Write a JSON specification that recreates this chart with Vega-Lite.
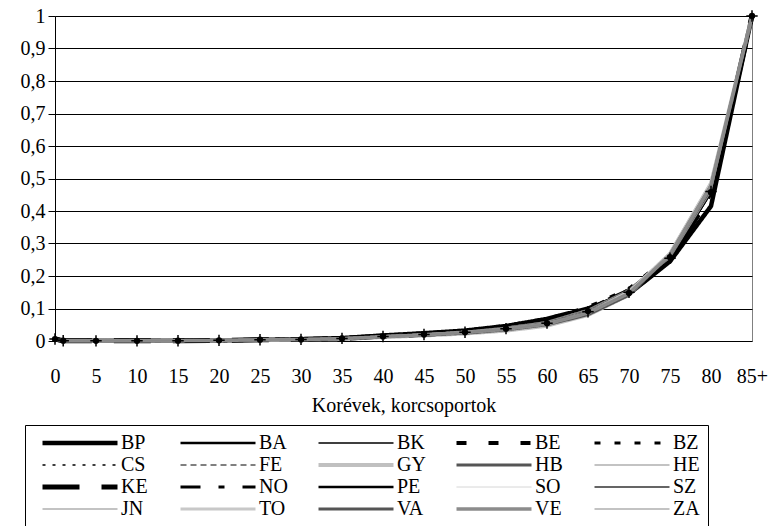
{
"$schema": "https://vega.github.io/schema/vega-lite/v6.json",
"width": 697, "height": 325,
"autosize": {"type": "none"},
"padding": {"left": 55, "top": 16, "right": 16, "bottom": 185},
"background": "white",
"config": {
  "font": "Liberation Serif, Times New Roman, serif",
  "axis": {"labelFont": "Liberation Serif, Times New Roman, serif", "titleFont": "Liberation Serif, Times New Roman, serif"},
  "view": {"stroke": "#808080", "strokeWidth": 1},
  "legend": {
    "orient": "none", "legendX": -30, "legendY": 409, "columns": 5, "direction": "horizontal",
    "symbolType": "stroke", "symbolSize": 5625, "clipHeight": 20, "labelFontSize": 20, "labelFont": "Liberation Serif, Times New Roman, serif",
    "labelColor": "#000", "labelOffset": 1, "columnPadding": 21, "rowPadding": 2,
    "strokeColor": "#000", "padding": 8, "symbolOffset": 7, "gridAlign": "all", "title": null
  }
},
"datasets": {
"q": [
{"c":"BP","a":0,"v":0.005},{"c":"BP","a":1,"v":0.0008},{"c":"BP","a":5,"v":0.0004},{"c":"BP","a":10,"v":0.0004},{"c":"BP","a":15,"v":0.0008},{"c":"BP","a":20,"v":0.0015},{"c":"BP","a":25,"v":0.0035},{"c":"BP","a":30,"v":0.0055},{"c":"BP","a":35,"v":0.009},{"c":"BP","a":40,"v":0.017},{"c":"BP","a":45,"v":0.024},{"c":"BP","a":50,"v":0.032},{"c":"BP","a":55,"v":0.046},{"c":"BP","a":60,"v":0.068},{"c":"BP","a":65,"v":0.1},{"c":"BP","a":70,"v":0.145},{"c":"BP","a":75,"v":0.245},{"c":"BP","a":80,"v":0.415},{"c":"BP","a":85,"v":1},
{"c":"BA","a":0,"v":0.006},{"c":"BA","a":1,"v":0.001},{"c":"BA","a":5,"v":0.0005},{"c":"BA","a":10,"v":0.0005},{"c":"BA","a":15,"v":0.001},{"c":"BA","a":20,"v":0.002},{"c":"BA","a":25,"v":0.004},{"c":"BA","a":30,"v":0.005},{"c":"BA","a":35,"v":0.008},{"c":"BA","a":40,"v":0.015},{"c":"BA","a":45,"v":0.022},{"c":"BA","a":50,"v":0.03},{"c":"BA","a":55,"v":0.042},{"c":"BA","a":60,"v":0.06},{"c":"BA","a":65,"v":0.097},{"c":"BA","a":70,"v":0.156},{"c":"BA","a":75,"v":0.255},{"c":"BA","a":80,"v":0.46},{"c":"BA","a":85,"v":1},
{"c":"BK","a":0,"v":0.006},{"c":"BK","a":1,"v":0.001},{"c":"BK","a":5,"v":0.0005},{"c":"BK","a":10,"v":0.0005},{"c":"BK","a":15,"v":0.001},{"c":"BK","a":20,"v":0.002},{"c":"BK","a":25,"v":0.004},{"c":"BK","a":30,"v":0.005},{"c":"BK","a":35,"v":0.008},{"c":"BK","a":40,"v":0.015},{"c":"BK","a":45,"v":0.021},{"c":"BK","a":50,"v":0.028},{"c":"BK","a":55,"v":0.04},{"c":"BK","a":60,"v":0.058},{"c":"BK","a":65,"v":0.094},{"c":"BK","a":70,"v":0.155},{"c":"BK","a":75,"v":0.26},{"c":"BK","a":80,"v":0.47},{"c":"BK","a":85,"v":1},
{"c":"BE","a":0,"v":0.007},{"c":"BE","a":1,"v":0.001},{"c":"BE","a":5,"v":0.0005},{"c":"BE","a":10,"v":0.0005},{"c":"BE","a":15,"v":0.001},{"c":"BE","a":20,"v":0.002},{"c":"BE","a":25,"v":0.004},{"c":"BE","a":30,"v":0.005},{"c":"BE","a":35,"v":0.008},{"c":"BE","a":40,"v":0.015},{"c":"BE","a":45,"v":0.022},{"c":"BE","a":50,"v":0.03},{"c":"BE","a":55,"v":0.042},{"c":"BE","a":60,"v":0.06},{"c":"BE","a":65,"v":0.097},{"c":"BE","a":70,"v":0.157},{"c":"BE","a":75,"v":0.255},{"c":"BE","a":80,"v":0.455},{"c":"BE","a":85,"v":1},
{"c":"BZ","a":0,"v":0.008},{"c":"BZ","a":1,"v":0.0015},{"c":"BZ","a":5,"v":0.0007},{"c":"BZ","a":10,"v":0.0007},{"c":"BZ","a":15,"v":0.0013},{"c":"BZ","a":20,"v":0.0025},{"c":"BZ","a":25,"v":0.0045},{"c":"BZ","a":30,"v":0.006},{"c":"BZ","a":35,"v":0.01},{"c":"BZ","a":40,"v":0.018},{"c":"BZ","a":45,"v":0.025},{"c":"BZ","a":50,"v":0.034},{"c":"BZ","a":55,"v":0.048},{"c":"BZ","a":60,"v":0.069},{"c":"BZ","a":65,"v":0.105},{"c":"BZ","a":70,"v":0.162},{"c":"BZ","a":75,"v":0.263},{"c":"BZ","a":80,"v":0.475},{"c":"BZ","a":85,"v":1},
{"c":"CS","a":0,"v":0.006},{"c":"CS","a":1,"v":0.001},{"c":"CS","a":5,"v":0.0005},{"c":"CS","a":10,"v":0.0005},{"c":"CS","a":15,"v":0.001},{"c":"CS","a":20,"v":0.002},{"c":"CS","a":25,"v":0.0038},{"c":"CS","a":30,"v":0.0048},{"c":"CS","a":35,"v":0.0075},{"c":"CS","a":40,"v":0.013},{"c":"CS","a":45,"v":0.019},{"c":"CS","a":50,"v":0.026},{"c":"CS","a":55,"v":0.036},{"c":"CS","a":60,"v":0.052},{"c":"CS","a":65,"v":0.086},{"c":"CS","a":70,"v":0.146},{"c":"CS","a":75,"v":0.255},{"c":"CS","a":80,"v":0.46},{"c":"CS","a":85,"v":1},
{"c":"FE","a":0,"v":0.006},{"c":"FE","a":1,"v":0.001},{"c":"FE","a":5,"v":0.0005},{"c":"FE","a":10,"v":0.0005},{"c":"FE","a":15,"v":0.001},{"c":"FE","a":20,"v":0.002},{"c":"FE","a":25,"v":0.004},{"c":"FE","a":30,"v":0.005},{"c":"FE","a":35,"v":0.008},{"c":"FE","a":40,"v":0.014},{"c":"FE","a":45,"v":0.02},{"c":"FE","a":50,"v":0.027},{"c":"FE","a":55,"v":0.038},{"c":"FE","a":60,"v":0.055},{"c":"FE","a":65,"v":0.09},{"c":"FE","a":70,"v":0.15},{"c":"FE","a":75,"v":0.255},{"c":"FE","a":80,"v":0.46},{"c":"FE","a":85,"v":1},
{"c":"GY","a":0,"v":0.005},{"c":"GY","a":1,"v":0.0008},{"c":"GY","a":5,"v":0.0004},{"c":"GY","a":10,"v":0.0004},{"c":"GY","a":15,"v":0.0009},{"c":"GY","a":20,"v":0.0018},{"c":"GY","a":25,"v":0.003},{"c":"GY","a":30,"v":0.004},{"c":"GY","a":35,"v":0.006},{"c":"GY","a":40,"v":0.012},{"c":"GY","a":45,"v":0.017},{"c":"GY","a":50,"v":0.023},{"c":"GY","a":55,"v":0.032},{"c":"GY","a":60,"v":0.047},{"c":"GY","a":65,"v":0.08},{"c":"GY","a":70,"v":0.142},{"c":"GY","a":75,"v":0.268},{"c":"GY","a":80,"v":0.483},{"c":"GY","a":85,"v":1},
{"c":"HB","a":0,"v":0.007},{"c":"HB","a":1,"v":0.0012},{"c":"HB","a":5,"v":0.0005},{"c":"HB","a":10,"v":0.0005},{"c":"HB","a":15,"v":0.001},{"c":"HB","a":20,"v":0.002},{"c":"HB","a":25,"v":0.004},{"c":"HB","a":30,"v":0.005},{"c":"HB","a":35,"v":0.008},{"c":"HB","a":40,"v":0.015},{"c":"HB","a":45,"v":0.021},{"c":"HB","a":50,"v":0.028},{"c":"HB","a":55,"v":0.04},{"c":"HB","a":60,"v":0.058},{"c":"HB","a":65,"v":0.094},{"c":"HB","a":70,"v":0.155},{"c":"HB","a":75,"v":0.26},{"c":"HB","a":80,"v":0.47},{"c":"HB","a":85,"v":1},
{"c":"HE","a":0,"v":0.006},{"c":"HE","a":1,"v":0.001},{"c":"HE","a":5,"v":0.0005},{"c":"HE","a":10,"v":0.0005},{"c":"HE","a":15,"v":0.001},{"c":"HE","a":20,"v":0.002},{"c":"HE","a":25,"v":0.004},{"c":"HE","a":30,"v":0.0052},{"c":"HE","a":35,"v":0.0085},{"c":"HE","a":40,"v":0.015},{"c":"HE","a":45,"v":0.022},{"c":"HE","a":50,"v":0.03},{"c":"HE","a":55,"v":0.042},{"c":"HE","a":60,"v":0.06},{"c":"HE","a":65,"v":0.097},{"c":"HE","a":70,"v":0.16},{"c":"HE","a":75,"v":0.263},{"c":"HE","a":80,"v":0.474},{"c":"HE","a":85,"v":1},
{"c":"KE","a":0,"v":0.006},{"c":"KE","a":1,"v":0.001},{"c":"KE","a":5,"v":0.0005},{"c":"KE","a":10,"v":0.0005},{"c":"KE","a":15,"v":0.001},{"c":"KE","a":20,"v":0.002},{"c":"KE","a":25,"v":0.004},{"c":"KE","a":30,"v":0.005},{"c":"KE","a":35,"v":0.008},{"c":"KE","a":40,"v":0.015},{"c":"KE","a":45,"v":0.021},{"c":"KE","a":50,"v":0.028},{"c":"KE","a":55,"v":0.04},{"c":"KE","a":60,"v":0.058},{"c":"KE","a":65,"v":0.094},{"c":"KE","a":70,"v":0.152},{"c":"KE","a":75,"v":0.25},{"c":"KE","a":80,"v":0.45},{"c":"KE","a":85,"v":1},
{"c":"NO","a":0,"v":0.007},{"c":"NO","a":1,"v":0.0012},{"c":"NO","a":5,"v":0.0006},{"c":"NO","a":10,"v":0.0006},{"c":"NO","a":15,"v":0.0012},{"c":"NO","a":20,"v":0.0022},{"c":"NO","a":25,"v":0.0042},{"c":"NO","a":30,"v":0.0058},{"c":"NO","a":35,"v":0.0095},{"c":"NO","a":40,"v":0.017},{"c":"NO","a":45,"v":0.024},{"c":"NO","a":50,"v":0.032},{"c":"NO","a":55,"v":0.046},{"c":"NO","a":60,"v":0.066},{"c":"NO","a":65,"v":0.1},{"c":"NO","a":70,"v":0.158},{"c":"NO","a":75,"v":0.255},{"c":"NO","a":80,"v":0.46},{"c":"NO","a":85,"v":1},
{"c":"PE","a":0,"v":0.006},{"c":"PE","a":1,"v":0.001},{"c":"PE","a":5,"v":0.0005},{"c":"PE","a":10,"v":0.0005},{"c":"PE","a":15,"v":0.001},{"c":"PE","a":20,"v":0.002},{"c":"PE","a":25,"v":0.004},{"c":"PE","a":30,"v":0.005},{"c":"PE","a":35,"v":0.008},{"c":"PE","a":40,"v":0.014},{"c":"PE","a":45,"v":0.02},{"c":"PE","a":50,"v":0.027},{"c":"PE","a":55,"v":0.038},{"c":"PE","a":60,"v":0.055},{"c":"PE","a":65,"v":0.092},{"c":"PE","a":70,"v":0.148},{"c":"PE","a":75,"v":0.258},{"c":"PE","a":80,"v":0.458},{"c":"PE","a":85,"v":1},
{"c":"SO","a":0,"v":0.006},{"c":"SO","a":1,"v":0.001},{"c":"SO","a":5,"v":0.0005},{"c":"SO","a":10,"v":0.0005},{"c":"SO","a":15,"v":0.001},{"c":"SO","a":20,"v":0.002},{"c":"SO","a":25,"v":0.004},{"c":"SO","a":30,"v":0.005},{"c":"SO","a":35,"v":0.008},{"c":"SO","a":40,"v":0.015},{"c":"SO","a":45,"v":0.021},{"c":"SO","a":50,"v":0.028},{"c":"SO","a":55,"v":0.04},{"c":"SO","a":60,"v":0.058},{"c":"SO","a":65,"v":0.094},{"c":"SO","a":70,"v":0.156},{"c":"SO","a":75,"v":0.263},{"c":"SO","a":80,"v":0.474},{"c":"SO","a":85,"v":1},
{"c":"SZ","a":0,"v":0.007},{"c":"SZ","a":1,"v":0.0011},{"c":"SZ","a":5,"v":0.0005},{"c":"SZ","a":10,"v":0.0005},{"c":"SZ","a":15,"v":0.001},{"c":"SZ","a":20,"v":0.002},{"c":"SZ","a":25,"v":0.004},{"c":"SZ","a":30,"v":0.0052},{"c":"SZ","a":35,"v":0.0085},{"c":"SZ","a":40,"v":0.015},{"c":"SZ","a":45,"v":0.022},{"c":"SZ","a":50,"v":0.03},{"c":"SZ","a":55,"v":0.042},{"c":"SZ","a":60,"v":0.06},{"c":"SZ","a":65,"v":0.097},{"c":"SZ","a":70,"v":0.159},{"c":"SZ","a":75,"v":0.26},{"c":"SZ","a":80,"v":0.469},{"c":"SZ","a":85,"v":1},
{"c":"JN","a":0,"v":0.007},{"c":"JN","a":1,"v":0.0011},{"c":"JN","a":5,"v":0.0005},{"c":"JN","a":10,"v":0.0005},{"c":"JN","a":15,"v":0.001},{"c":"JN","a":20,"v":0.002},{"c":"JN","a":25,"v":0.004},{"c":"JN","a":30,"v":0.0052},{"c":"JN","a":35,"v":0.0085},{"c":"JN","a":40,"v":0.015},{"c":"JN","a":45,"v":0.022},{"c":"JN","a":50,"v":0.03},{"c":"JN","a":55,"v":0.042},{"c":"JN","a":60,"v":0.06},{"c":"JN","a":65,"v":0.097},{"c":"JN","a":70,"v":0.158},{"c":"JN","a":75,"v":0.255},{"c":"JN","a":80,"v":0.46},{"c":"JN","a":85,"v":1},
{"c":"TO","a":0,"v":0.006},{"c":"TO","a":1,"v":0.001},{"c":"TO","a":5,"v":0.0005},{"c":"TO","a":10,"v":0.0005},{"c":"TO","a":15,"v":0.001},{"c":"TO","a":20,"v":0.002},{"c":"TO","a":25,"v":0.0035},{"c":"TO","a":30,"v":0.0045},{"c":"TO","a":35,"v":0.0072},{"c":"TO","a":40,"v":0.013},{"c":"TO","a":45,"v":0.019},{"c":"TO","a":50,"v":0.026},{"c":"TO","a":55,"v":0.036},{"c":"TO","a":60,"v":0.052},{"c":"TO","a":65,"v":0.086},{"c":"TO","a":70,"v":0.152},{"c":"TO","a":75,"v":0.27},{"c":"TO","a":80,"v":0.488},{"c":"TO","a":85,"v":1},
{"c":"VA","a":0,"v":0.005},{"c":"VA","a":1,"v":0.0009},{"c":"VA","a":5,"v":0.0004},{"c":"VA","a":10,"v":0.0005},{"c":"VA","a":15,"v":0.001},{"c":"VA","a":20,"v":0.0018},{"c":"VA","a":25,"v":0.0032},{"c":"VA","a":30,"v":0.0042},{"c":"VA","a":35,"v":0.0068},{"c":"VA","a":40,"v":0.013},{"c":"VA","a":45,"v":0.018},{"c":"VA","a":50,"v":0.024},{"c":"VA","a":55,"v":0.034},{"c":"VA","a":60,"v":0.05},{"c":"VA","a":65,"v":0.081},{"c":"VA","a":70,"v":0.141},{"c":"VA","a":75,"v":0.265},{"c":"VA","a":80,"v":0.478},{"c":"VA","a":85,"v":1},
{"c":"VE","a":0,"v":0.006},{"c":"VE","a":1,"v":0.001},{"c":"VE","a":5,"v":0.0005},{"c":"VE","a":10,"v":0.0005},{"c":"VE","a":15,"v":0.001},{"c":"VE","a":20,"v":0.002},{"c":"VE","a":25,"v":0.0035},{"c":"VE","a":30,"v":0.0045},{"c":"VE","a":35,"v":0.0072},{"c":"VE","a":40,"v":0.013},{"c":"VE","a":45,"v":0.019},{"c":"VE","a":50,"v":0.026},{"c":"VE","a":55,"v":0.036},{"c":"VE","a":60,"v":0.052},{"c":"VE","a":65,"v":0.086},{"c":"VE","a":70,"v":0.147},{"c":"VE","a":75,"v":0.265},{"c":"VE","a":80,"v":0.478},{"c":"VE","a":85,"v":1},
{"c":"ZA","a":0,"v":0.006},{"c":"ZA","a":1,"v":0.001},{"c":"ZA","a":5,"v":0.0005},{"c":"ZA","a":10,"v":0.0005},{"c":"ZA","a":15,"v":0.001},{"c":"ZA","a":20,"v":0.002},{"c":"ZA","a":25,"v":0.0035},{"c":"ZA","a":30,"v":0.0045},{"c":"ZA","a":35,"v":0.0072},{"c":"ZA","a":40,"v":0.013},{"c":"ZA","a":45,"v":0.019},{"c":"ZA","a":50,"v":0.026},{"c":"ZA","a":55,"v":0.036},{"c":"ZA","a":60,"v":0.052},{"c":"ZA","a":65,"v":0.086},{"c":"ZA","a":70,"v":0.148},{"c":"ZA","a":75,"v":0.26},{"c":"ZA","a":80,"v":0.469},{"c":"ZA","a":85,"v":1}
]
},
"data": {"name": "q"},
"encoding": {
  "x": {"field": "a", "type": "quantitative",
        "scale": {"domain": [0, 85], "nice": false, "zero": false},
        "axis": {"values": [0,5,10,15,20,25,30,35,40,45,50,55,60,65,70,75,80,85],
                 "labelExpr": "datum.value == 85 ? '85+' : datum.label",
                 "ticks": false, "domain": false, "grid": false, "labelFlush": false, "labelOverlap": false,
                 "labelFontSize": 20, "labelColor": "#000", "labelPadding": 25,
                 "title": "Korévek, korcsoportok", "titleFontSize": 20, "titleFontWeight": "normal",
                 "titleColor": "#000", "titlePadding": 9}},
  "y": {"field": "v", "type": "quantitative",
        "scale": {"domain": [0, 1], "nice": false},
        "axis": {"values": [0,0.1,0.2,0.3,0.4,0.5,0.6,0.7,0.8,0.9,1],
                 "labelExpr": "replace(format(datum.value, '.1~f'), '.', ',')",
                 "domainColor": "#000", "tickColor": "#000", "tickSize": 7,
                 "gridColor": "#000", "gridWidth": 1, "labelFontSize": 20, "labelColor": "#000",
                 "labelPadding": 3, "title": null}}
},
"layer": [
  {"mark": {"type": "line", "strokeCap": "butt"},
   "encoding": {
     "color": {"field": "c", "type": "nominal",
       "scale": {"domain": ["BP","BA","BK","BE","BZ","CS","FE","GY","HB","HE","KE","NO","PE","SO","SZ","JN","TO","VA","VE","ZA"],
                 "range": ["#000000","#000000","#000000","#000000","#000000","#000000","#000000","#c0c0c0","#555555","#888888","#000000","#000000","#000000","#d0d0d0","#333333","#888888","#c8c8c8","#555555","#8c8c8c","#888888"]},
       "legend": {"title": null}},
     "strokeWidth": {"field": "c", "type": "nominal",
       "scale": {"type": "ordinal", "domain": ["BP","BA","BK","BE","BZ","CS","FE","GY","HB","HE","KE","NO","PE","SO","SZ","JN","TO","VA","VE","ZA"],
                 "range": [4.5,2.5,1.3,4,3,1.5,1,4,3,1.2,5,3,2.5,1,1.5,1.2,3,3,3.5,1.2]},
       "legend": {"title": null}},
     "strokeDash": {"field": "c", "type": "nominal",
       "scale": {"domain": ["BP","BA","BK","BE","BZ","CS","FE","GY","HB","HE","KE","NO","PE","SO","SZ","JN","TO","VA","VE","ZA"],
                 "range": [[1,0],[1,0],[1,0],[10,22],[6,14],[3,7],[6,4],[1,0],[1,0],[1,0],[37,22],[20,18,6,18],[1,0],[1,0],[1,0],[1,0],[1,0],[1,0],[1,0],[1,0]]},
       "legend": {"title": null}}
   }},
  {"transform": [{"filter": "datum.c == 'FE'"}],
   "mark": {"type": "point", "shape": "M-1,0L1,0M0,-1L0,1", "size": 130, "color": "#000", "strokeWidth": 1.5, "filled": false, "opacity": 1}},
  {"transform": [{"filter": "datum.c == 'PE'"}],
   "mark": {"type": "point", "shape": "circle", "size": 40, "color": "#000", "filled": true, "opacity": 1}}
]
}
